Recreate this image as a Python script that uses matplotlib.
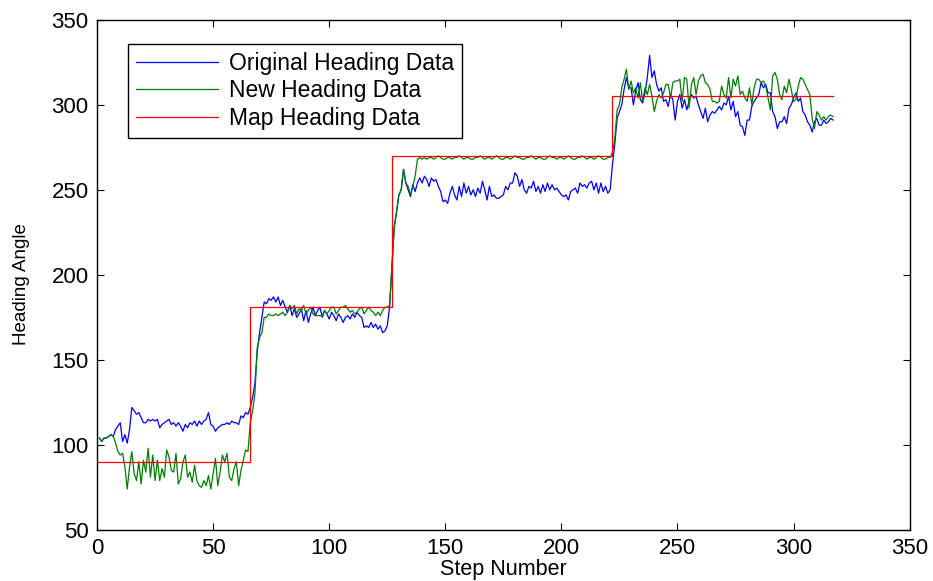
import numpy as np
import matplotlib
matplotlib.use('Agg')
import matplotlib.pyplot as plt

plt.rcParams['font.family'] = ['Liberation Sans', 'DejaVu Sans']

# heading, one value per step (steps 1..317)
original_heading = [
    104, 102, 104, 104, 105, 106, 105, 109, 111, 113,
    102, 106, 101, 109, 122, 120, 118, 119, 116, 113,
    113, 115, 114, 115, 114, 115, 110, 112, 113, 114,
    115, 112, 113, 111, 113, 111, 108, 112, 110, 113,
    112, 114, 111, 114, 112, 114, 115, 119, 112, 111,
    108, 110, 111, 112, 112, 113, 112, 114, 113, 113,
    112, 117, 116, 119, 118, 122, 128, 136, 155, 166,
    175, 184, 183, 186, 185, 187, 184, 187, 182, 185,
    181, 178, 182, 176, 180, 175, 177, 180, 173, 179,
    172, 177, 181, 176, 179, 181, 175, 179, 177, 174,
    178, 176, 173, 177, 175, 172, 175, 176, 174, 177,
    175, 178, 176, 175, 169, 170, 169, 172, 169, 171,
    168, 170, 166, 167, 170, 181, 205, 228, 237, 247,
    250, 262, 254, 250, 246, 253, 249, 254, 257, 254,
    258, 256, 252, 257, 255, 256, 252, 249, 243, 244,
    242, 248, 252, 247, 244, 252, 246, 254, 248, 252,
    247, 250, 246, 251, 248, 255, 250, 244, 252, 246,
    247, 245, 245, 246, 247, 252, 250, 254, 254, 260,
    258, 252, 256, 250, 248, 252, 251, 255, 249, 252,
    248, 253, 249, 254, 250, 253, 250, 251, 249, 247,
    246, 247, 244, 249, 250, 251, 248, 254, 252, 253,
    251, 254, 255, 250, 254, 248, 254, 249, 252, 248,
    250, 265, 277, 292, 296, 300, 309, 316, 310, 310,
    300, 308, 313, 303, 301, 307, 316, 329, 316, 320,
    312, 308, 310, 302, 303, 299, 306, 303, 291, 302,
    306, 298, 303, 297, 302, 306, 304, 305, 300, 296,
    292, 298, 290, 294, 296, 295, 297, 299, 297, 301,
    300, 305, 297, 302, 293, 296, 288, 287, 282, 291,
    291, 299, 302, 304, 306, 313, 310, 312, 307, 307,
    296, 293, 286, 290, 290, 293, 289, 298, 300, 304,
    307, 302, 304, 296, 294, 290, 288, 284, 290, 292,
    288, 288, 291, 289, 290, 292, 291,
]

new_heading = [
    104, 102, 104, 104, 105, 106, 105, 101, 96, 94,
    95, 87, 74, 87, 96, 83, 79, 90, 77, 91,
    84, 98, 81, 94, 79, 91, 79, 86, 81, 97,
    93, 85, 84, 95, 77, 80, 90, 94, 81, 84,
    78, 88, 79, 76, 75, 79, 76, 82, 74, 83,
    92, 76, 84, 94, 90, 95, 81, 79, 86, 90,
    76, 85, 91, 97, 96, 113, 120, 130, 157, 163,
    166, 175, 175, 177, 176, 176, 177, 176, 177, 178,
    176, 178, 182, 180, 182, 177, 180, 179, 182, 177,
    179, 181, 177, 176, 176, 176, 176, 179, 177, 179,
    181, 181, 177, 179, 181, 181, 182, 180, 178, 179,
    177, 178, 180, 181, 177, 179, 181, 179, 178, 176,
    178, 176, 179, 181, 181, 182, 205, 228, 237, 247,
    250, 262, 254, 252, 247, 252, 258, 268, 269, 268,
    269, 268, 269, 269, 268, 269, 270, 269, 268, 268,
    269, 269, 268, 269, 269, 270, 269, 268, 269, 269,
    268, 268, 269, 269, 270, 269, 268, 269, 269, 268,
    269, 270, 269, 268, 268, 269, 269, 268, 269, 270,
    269, 269, 268, 268, 269, 269, 270, 269, 268, 269,
    269, 268, 268, 269, 270, 269, 269, 268, 269, 269,
    268, 269, 270, 269, 268, 268, 269, 269, 270, 269,
    268, 269, 269, 268, 269, 270, 269, 268, 268, 269,
    269, 272, 280, 297, 300, 310, 315, 321, 309, 314,
    307, 310, 304, 313, 302, 310, 306, 312, 305, 296,
    302, 306, 304, 307, 312, 312, 304, 313, 314, 314,
    315, 302, 316, 315, 298, 312, 316, 306, 314, 317,
    318, 313, 312, 309, 302, 302, 301, 302, 311, 306,
    304, 316, 304, 315, 311, 317, 306, 308, 304, 302,
    310, 300, 310, 315, 315, 313, 314, 311, 304, 297,
    317, 319, 315, 306, 303, 311, 307, 315, 309, 302,
    303, 311, 316, 315, 312, 309, 306, 292, 286, 296,
    294, 291, 293, 291, 293, 294, 293,
]

# map heading is piecewise constant
map_edges = [0, 66, 127, 222, 317]
map_values = [90, 181, 270, 305]

fig = plt.figure(figsize=(9.33, 5.81), dpi=100)
ax = fig.add_axes([0.104, 0.088, 0.871, 0.878])

steps_orig = np.arange(1, len(original_heading) + 1)
steps_new = np.arange(1, len(new_heading) + 1)

ax.plot(steps_orig, original_heading, color='#0000ff', lw=0.9, label='Original Heading Data')
ax.plot(steps_new, new_heading, color='#008000', lw=0.9, label='New Heading Data')
ax.step(map_edges, map_values + [map_values[-1]], where='post', color='#ff0000', lw=0.9,
        label='Map Heading Data')

ax.set_xlim(0, 350)
ax.set_ylim(50, 350)
ax.set_xticks(np.arange(0, 351, 50))
ax.set_yticks(np.arange(50, 351, 50))
ax.tick_params(direction='in', length=5, width=0.8, labelsize=16, top=True, right=True,
               pad=6)
for sp in ax.spines.values():
    sp.set_linewidth(1.0)

ax.set_xlabel('Step Number', fontsize=15.5, labelpad=0)
ax.set_ylabel('Heading Angle', fontsize=13.5)
ax.yaxis.set_label_coords(-0.083, 0.482)

leg = ax.legend(loc='upper left', bbox_to_anchor=(0.038, 0.953), borderaxespad=0,
                fontsize=16.5, frameon=True, fancybox=False, edgecolor='black',
                framealpha=1, handlelength=3.6, handletextpad=0.45,
                labelspacing=0.2, borderpad=0.35)
leg.get_frame().set_linewidth(1.0)

plt.savefig('out.png', dpi=100)
